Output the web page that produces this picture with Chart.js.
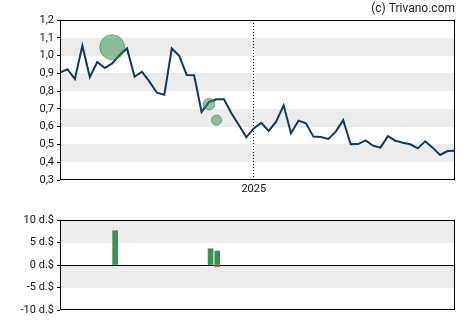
<!DOCTYPE html>
<html>
<head>
<meta charset="utf-8">
<script src="https://cdn.jsdelivr.net/npm/chart.js@4"></script>
<style>
  body { margin: 0; background: #fff; }
  #wrap { position: relative; width: 470px; height: 325px; }
  #priceChart { position: absolute; left: 0; top: 0; }
  #tradeChart { position: absolute; left: 0; top: 200px; }
</style>
</head>
<body>
<div id="wrap">
  <canvas id="priceChart" width="470" height="200"></canvas>
  <canvas id="tradeChart" width="470" height="125"></canvas>
</div>
<script>
// Weekly closing prices (index = week number)
const closePrices = [
  0.904, 0.923, 0.868, 1.055, 0.879, 0.964, 0.930, 0.956, 1.003, 1.040,
  0.881, 0.909, 0.853, 0.791, 0.780, 1.040, 0.998, 0.891, 0.889, 0.682,
  0.739, 0.754, 0.754, 0.675, 0.609, 0.540, 0.590, 0.622, 0.576, 0.628,
  0.720, 0.563, 0.634, 0.619, 0.544, 0.542, 0.531, 0.572, 0.637, 0.501,
  0.502, 0.523, 0.493, 0.482, 0.547, 0.521, 0.510, 0.501, 0.478, 0.518,
  0.482, 0.441, 0.463, 0.465
];
const weeks = closePrices.map((_, i) => i);

// Insider trades: week, price, amount (thousand $)
const tradeWeeks = [7, 20, 21];
const tradePrices = [1.047, 0.727, 0.637];
const tradeAmounts = [7.56, 3.56, 3.1];

// Bottom panel bars
const barWeeks = [7.4, 20.2, 21.1];
const buyAmounts = [7.56, 3.56, 3.1];
const sellAmounts = [0, 0, -0.3];

// Axis ticks
const yearTicks = [26];
const yearLabels = ['2025'];
const priceMin = 0.3, priceMax = 1.2, priceStep = 0.1;
const amountMin = -10, amountMax = 10, amountStep = 5;

const FONT = { family: 'Roboto, Arial, sans-serif', size: 11 };
const lastWeek = weeks[weeks.length - 1];

// alternating gray bands + black frame around the plot area
const bandsPlugin = {
  id: 'bands',
  beforeDraw(chart) {
    const { ctx, chartArea: a } = chart;
    const ys = chart.scales.y;
    ctx.save();
    ctx.fillStyle = '#ececec';
    for (let i = 1; i < ys.ticks.length - 1; i += 2) {
      const y1 = ys.getPixelForValue(ys.ticks[i].value);
      const y2 = ys.getPixelForValue(ys.ticks[i + 1].value);
      ctx.fillRect(a.left, Math.round(y2), a.right - a.left, Math.round(y1) - Math.round(y2));
    }
    ctx.restore();
  },
  afterDraw(chart) {
    const { ctx, chartArea: a } = chart;
    ctx.save();
    ctx.strokeStyle = '#000';
    ctx.lineWidth = 1;
    ctx.strokeRect(a.left + 0.5, a.top + 0.5, a.right - a.left - 1, a.bottom - a.top - 1);
    ctx.restore();
  }
};

const zeroLinePlugin = {
  id: 'zeroLine',
  beforeDatasetsDraw(chart) {
    const { ctx, chartArea: a } = chart;
    const y = Math.round(chart.scales.y.getPixelForValue(0)) + 0.5;
    ctx.save();
    ctx.strokeStyle = '#000';
    ctx.lineWidth = 1;
    ctx.beginPath();
    ctx.moveTo(a.left, y);
    ctx.lineTo(a.right, y);
    ctx.stroke();
    ctx.restore();
  }
};

const creditPlugin = {
  id: 'credit',
  afterDraw(chart) {
    const { ctx, chartArea: a } = chart;
    ctx.save();
    ctx.font = '12px Roboto, Arial, sans-serif';
    ctx.fillStyle = '#222';
    ctx.textAlign = 'right';
    ctx.textBaseline = 'middle';
    ctx.fillText('(c) Trivano.com', a.right, 9);
    ctx.restore();
  }
};

new Chart(document.getElementById('priceChart'), {
  type: 'line',
  data: {
    datasets: [
      {
        type: 'bubble',
        data: tradeWeeks.map((w, i) => ({ x: w, y: tradePrices[i], r: tradeAmounts[i] * 1.65 })),
        backgroundColor: 'rgba(40,140,70,0.5)',
        borderColor: 'rgba(40,140,70,0.55)',
        borderWidth: 1
      },
      {
        data: weeks.map((w, i) => ({ x: w, y: closePrices[i] })),
        borderColor: '#0f3a5c',
        borderWidth: 2,
        pointRadius: 0,
        tension: 0
      }
    ]
  },
  options: {
    responsive: false,
    devicePixelRatio: 1,
    animation: false,
    layout: { padding: { top: 20, right: 15, left: 0, bottom: 0 } },
    plugins: { legend: { display: false }, tooltip: { enabled: false } },
    scales: {
      x: {
        type: 'linear',
        min: 0,
        max: lastWeek,
        offset: false,
        afterBuildTicks: s => { s.ticks = yearTicks.map(v => ({ value: v })); },
        afterFit: s => { s.height = 20; },
        ticks: {
          callback: v => yearLabels[yearTicks.indexOf(v)],
          color: '#111',
          font: FONT,
          padding: 3,
          maxRotation: 0
        },
        grid: { color: '#000', lineWidth: 1, drawTicks: false },
        border: { display: false, dash: [1, 2] }
      },
      y: {
        min: priceMin,
        max: priceMax,
        afterFit: s => { s.width = 60; },
        ticks: {
          stepSize: priceStep,
          callback: v => v.toFixed(1).replace('.', ','),
          color: '#111',
          font: FONT,
          padding: 3
        },
        grid: { drawOnChartArea: false, tickLength: 3, tickColor: '#000' },
        border: { display: false }
      }
    }
  },
  plugins: [bandsPlugin, creditPlugin]
});

new Chart(document.getElementById('tradeChart'), {
  type: 'bar',
  data: {
    datasets: [
      {
        data: barWeeks.map((w, i) => ({ x: w, y: buyAmounts[i] })),
        backgroundColor: '#3a9155',
        barThickness: 5
      },
      {
        data: barWeeks.map((w, i) => ({ x: w, y: sellAmounts[i] })),
        backgroundColor: '#e8202a',
        barThickness: 5
      }
    ]
  },
  options: {
    responsive: false,
    devicePixelRatio: 1,
    animation: false,
    layout: { padding: { top: 20, right: 15, left: 0, bottom: 15 } },
    plugins: { legend: { display: false }, tooltip: { enabled: false } },
    scales: {
      x: {
        type: 'linear',
        min: 0,
        max: lastWeek,
        offset: false,
        stacked: true,
        display: false
      },
      y: {
        min: amountMin,
        max: amountMax,
        stacked: true,
        afterFit: s => { s.width = 60; },
        ticks: {
          stepSize: amountStep,
          callback: v => v + ' d.$',
          color: '#111',
          font: FONT,
          padding: 3
        },
        grid: { drawOnChartArea: false, tickLength: 3, tickColor: '#000' },
        border: { display: false }
      }
    }
  },
  plugins: [bandsPlugin, zeroLinePlugin]
});
</script>
</body>
</html>
